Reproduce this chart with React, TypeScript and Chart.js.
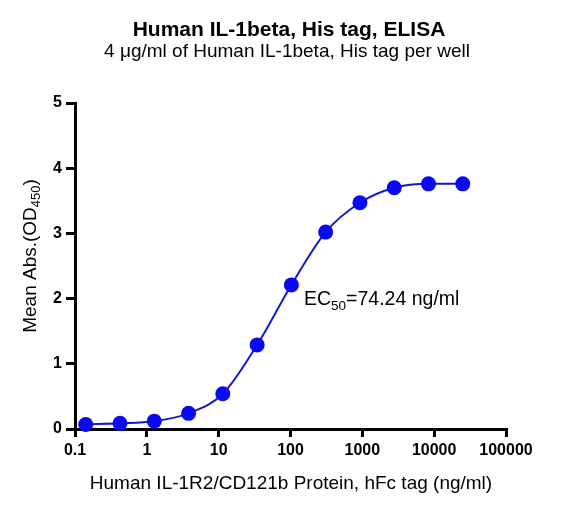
import React, { useEffect, useRef } from "react";
import { Chart, registerables } from "chart.js";

Chart.register(...registerables);

// ---- data ----
const concentrations = [0.141, 0.423, 1.27, 3.81, 11.43, 34.3, 102.9, 308.6, 925.9, 2778, 8333, 25000];
const meanAbs = [0.07, 0.087, 0.12, 0.24, 0.54, 1.29, 2.21, 3.02, 3.47, 3.7, 3.76, 3.76];
const xTickValues = [0.1, 1, 10, 100, 1000, 10000, 100000];
const yTickValues = [0, 1, 2, 3, 4, 5];
const titleText = "Human IL-1beta, His tag, ELISA";
const subtitleText = "4 μg/ml of Human IL-1beta, His tag per well";
const xTitleText = "Human IL-1R2/CD121b Protein, hFc tag (ng/ml)";
const yTitleMain = "Mean Abs.(OD";
const yTitleSub = "450";
const yTitleEnd = ")";
const ec50Main = "EC";
const ec50Sub = "50";
const ec50End = "=74.24 ng/ml";

const FONT = "'Liberation Sans', Arial, Helvetica, sans-serif";
const POINT_BLUE = "#0a0af2";
const LINE_BLUE = "#1616cc";

const textPlugin = {
  id: "customTexts",
  afterDraw(chart: any) {
    const ctx = chart.ctx as CanvasRenderingContext2D;
    ctx.save();
    ctx.fillStyle = "#000";
    ctx.textBaseline = "middle";
    ctx.textAlign = "center";
    ctx.font = `bold 21px ${FONT}`;
    ctx.fillText(titleText, 289, 30);
    ctx.font = `19px ${FONT}`;
    ctx.fillText(subtitleText, 287, 52);
    ctx.font = `19px ${FONT}`;
    ctx.fillText(xTitleText, 291, 484);

    // y title with subscript, rotated
    const mainSize = 19;
    const subSize = 13;
    ctx.font = `${mainSize}px ${FONT}`;
    const w1 = ctx.measureText(yTitleMain).width;
    const w3 = ctx.measureText(yTitleEnd).width;
    ctx.font = `${subSize}px ${FONT}`;
    const w2 = ctx.measureText(yTitleSub).width;
    const total = w1 + w2 + w3;
    ctx.translate(31, 256);
    ctx.rotate(-Math.PI / 2);
    ctx.textAlign = "left";
    let x = -total / 2;
    ctx.font = `${mainSize}px ${FONT}`;
    ctx.fillText(yTitleMain, x, 0);
    x += w1;
    ctx.font = `${subSize}px ${FONT}`;
    ctx.fillText(yTitleSub, x, 5);
    x += w2;
    ctx.font = `${mainSize}px ${FONT}`;
    ctx.fillText(yTitleEnd, x, 0);
    ctx.restore();

    // EC50 annotation
    ctx.save();
    ctx.fillStyle = "#000";
    ctx.textBaseline = "middle";
    ctx.textAlign = "left";
    let ex = 304;
    const ey = 300;
    ctx.font = `19.5px ${FONT}`;
    ctx.fillText(ec50Main, ex, ey);
    ex += ctx.measureText(ec50Main).width;
    ctx.font = `13.5px ${FONT}`;
    ctx.fillText(ec50Sub, ex, ey + 6);
    ex += ctx.measureText(ec50Sub).width;
    ctx.font = `19.5px ${FONT}`;
    ctx.fillText(ec50End, ex, ey);
    ctx.restore();
  },
};

export default function App() {
  const canvasRef = useRef<HTMLCanvasElement | null>(null);

  useEffect(() => {
    if (!canvasRef.current) return;
    const chart = new Chart(canvasRef.current, {
      type: "line",
      data: {
        datasets: [
          {
            data: concentrations.map((c, i) => ({ x: c, y: meanAbs[i] })),
            borderColor: LINE_BLUE,
            backgroundColor: POINT_BLUE,
            borderWidth: 2,
            pointRadius: 7.5,
            pointHoverRadius: 7.5,
            pointBackgroundColor: POINT_BLUE,
            pointBorderColor: POINT_BLUE,
            pointBorderWidth: 0,
            cubicInterpolationMode: "monotone",
            fill: false,
            clip: false as any,
          },
        ],
      },
      options: {
        animation: false,
        responsive: false,
        maintainAspectRatio: false,
        events: [],
        layout: { padding: { top: 103, right: 56, left: 0, bottom: 0 } },
        plugins: {
          legend: { display: false },
          title: { display: false },
          tooltip: { enabled: false },
        },
        scales: {
          x: {
            type: "logarithmic",
            min: 0.1,
            max: 100000,
            afterBuildTicks: (scale: any) => {
              scale.ticks = xTickValues.map((v) => ({ value: v }));
            },
            afterFit: (scale: any) => {
              scale.height = 77;
            },
            ticks: {
              autoSkip: false,
              maxRotation: 0,
              minRotation: 0,
              padding: 4,
              color: "#000",
              font: { family: FONT, size: 16, weight: "bold" },
              callback: (v: any) => String(v),
            },
            grid: {
              display: true,
              drawOnChartArea: false,
              drawTicks: true,
              tickLength: 8,
              lineWidth: 3,
              color: "#000",
            },
            border: { display: true, width: 3, color: "#000" },
          },
          y: {
            type: "linear",
            min: 0,
            max: 5,
            afterBuildTicks: (scale: any) => {
              scale.ticks = yTickValues.map((v) => ({ value: v }));
            },
            afterFit: (scale: any) => {
              scale.width = 75;
            },
            ticks: {
              padding: 4,
              color: "#000",
              font: { family: FONT, size: 16, weight: "bold" },
              callback: (v: any) => String(v),
            },
            grid: {
              display: true,
              drawOnChartArea: false,
              drawTicks: true,
              tickLength: 9,
              lineWidth: 3,
              color: "#000",
            },
            border: { display: true, width: 3, color: "#000" },
          },
        },
      },
      plugins: [textPlugin],
    } as any);
    return () => chart.destroy();
  }, []);

  return (
    <div style={{ position: "absolute", left: 0, top: 0, width: 562, height: 506, background: "#fff" }}>
      <canvas ref={canvasRef} width={562} height={506} style={{ width: 562, height: 506, display: "block" }} />
    </div>
  );
}
